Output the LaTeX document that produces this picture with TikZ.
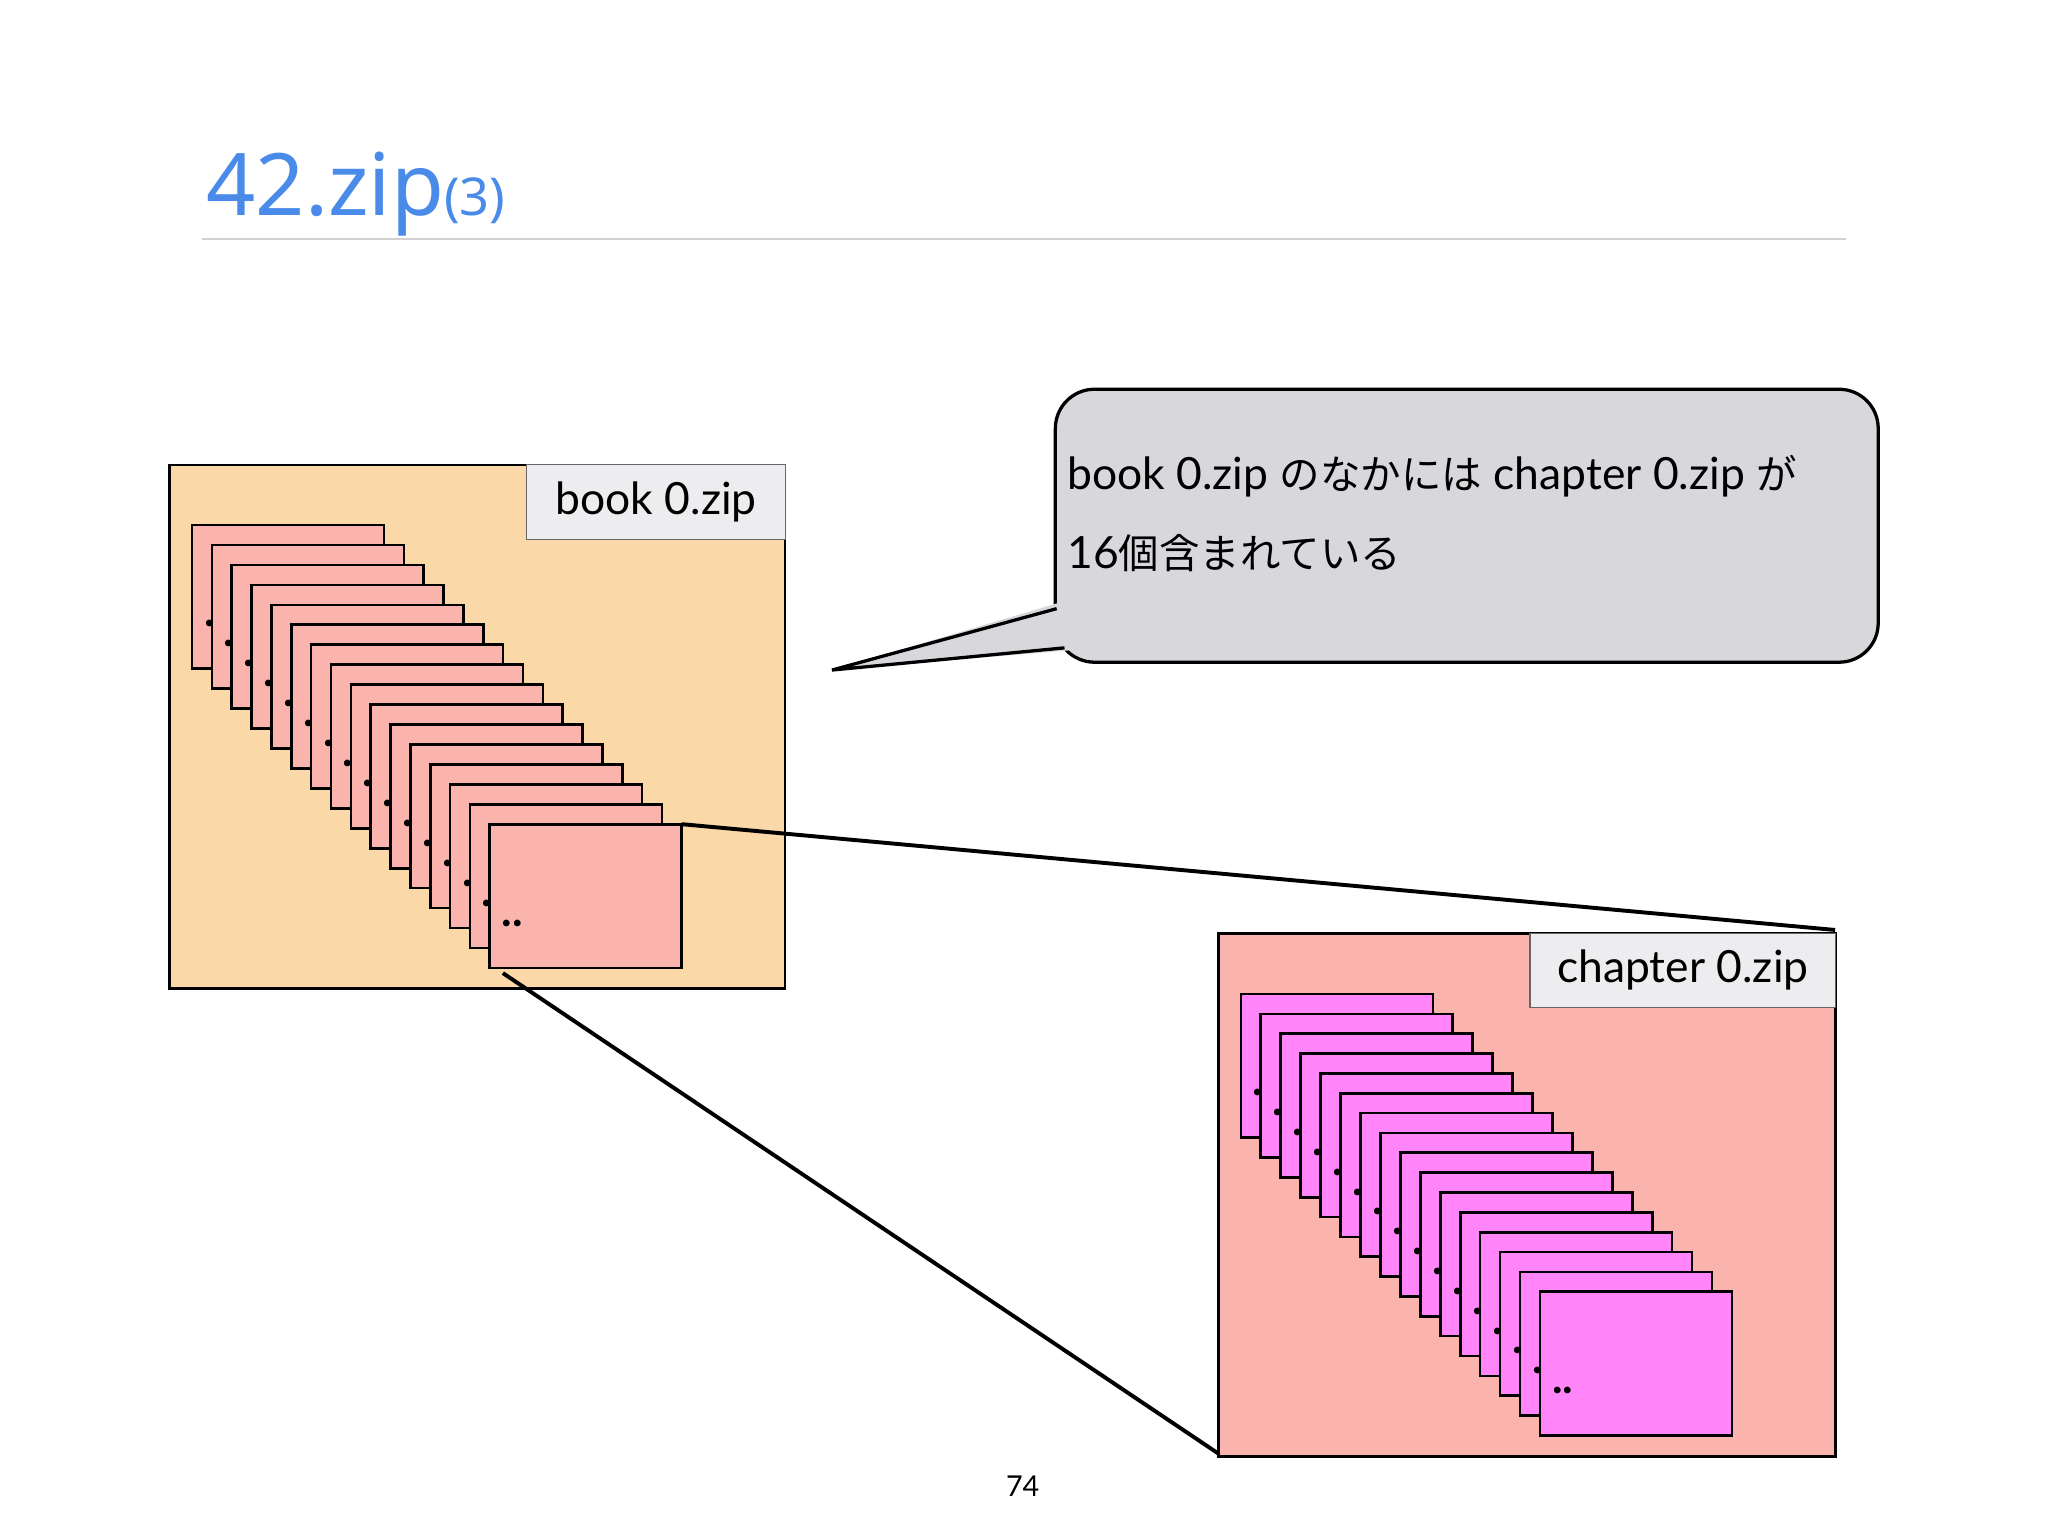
\documentclass[tikz,border=0pt]{standalone}
\usepackage{fontspec}
\setmainfont{Lato}
\newfontfamily\cjk{Noto Sans CJK JP}
\newfontfamily\ttlfont{Noto Sans}
\begin{document}
\begin{tikzpicture}[x=1pt,y=-1pt,
  box/.style={draw=black,line width=2.2pt},
  lab/.style={draw=black!60,line width=0.8pt,fill=labgray},
  card/.style={draw=black,line width=2pt},
  txt/.style={font=\fontsize{34}{40}\selectfont},
  dots/.style={font=\bfseries\fontsize{34}{34}\selectfont,anchor=base west,inner sep=0},
]
\definecolor{labgray}{HTML}{EDEDF0}
\definecolor{booko}{HTML}{FAD8A8}
\definecolor{pinkc}{HTML}{FBB3AE}
\definecolor{magc}{HTML}{FF85F8}
\definecolor{ttl}{HTML}{4A8BEA}
\definecolor{callg}{HTML}{D8D7DB}
\useasboundingbox (0,0) rectangle (1568,1176);
\fill[white] (0,0) rectangle (1568,1176);
% title
\node[anchor=base west,text=ttl,inner sep=0] (title) at (158,165) {\ttlfont\fontsize{66}{66}\selectfont 42.zip\fontsize{40}{40}\selectfont(3)};
\draw[black!18,line width=2pt] (155,183) -- (1413,183);
% book box
\draw[box,fill=booko] (130,356) rectangle (601,757);
\node[lab,minimum width=198pt,minimum height=58pt,anchor=north west,inner sep=0,txt] (bl) at (403,355) {book 0.zip};
\foreach \i in {0,...,15}{
  \pgfmathsetmacro\xx{147+15.2*\i}
  \pgfmathsetmacro\yy{402+15.27*\i}
  \draw[card,fill=pinkc] (\xx,\yy) rectangle ++(147,110);
  \node[dots] at (\xx+9,\yy+78) {..};
}
\coordinate (bTR) at (522,631);
\coordinate (bBL) at (385,745);
% chapter box
\draw[box,fill=pinkc] (933,715) rectangle (1405,1115);
\node[lab,minimum width=234pt,minimum height=57pt,anchor=north west,inner sep=0,txt] (cl) at (1171,714) {chapter 0.zip};
\foreach \i in {0,...,15}{
  \pgfmathsetmacro\xx{950+15.27*\i}
  \pgfmathsetmacro\yy{761+15.2*\i}
  \draw[card,fill=magc] (\xx,\yy) rectangle ++(147,110);
  \node[dots] at (\xx+9,\yy+78) {..};
}
\coordinate (cTR) at (1405,712);
\coordinate (cBL) at (933,1113);
\draw[line width=3pt] (bTR) -- (cTR);
\draw[line width=3pt] (bBL) -- (cBL);
% callout
\draw[line width=2.5pt,fill=callg,rounded corners=30pt] (808,298) -- (1438,298) -- (1438,507) -- (808,507) -- cycle;
\coordinate (tip) at (637,513);
\fill[callg] (809,462) -- (tip) -- (818,498) -- (830,498) -- (830,462) -- cycle;
\draw[line width=2.5pt] (809,466) -- (tip) -- (815,496);
\node[anchor=base west,inner sep=0,txt] (l1) at (817,375) {book 0.zip {\cjk\fontsize{31}{36}\selectfont のなかには} chapter 0.zip {\cjk\fontsize{31}{36}\selectfont が}};
\node[anchor=base west,inner sep=0,txt] (l2) at (817,435) {16{\cjk\fontsize{31}{36}\selectfont 個含まれている}};
\node[font=\fontsize{22}{22}\selectfont] (pg) at (783,1138) {74};
\end{tikzpicture}
\end{document}
